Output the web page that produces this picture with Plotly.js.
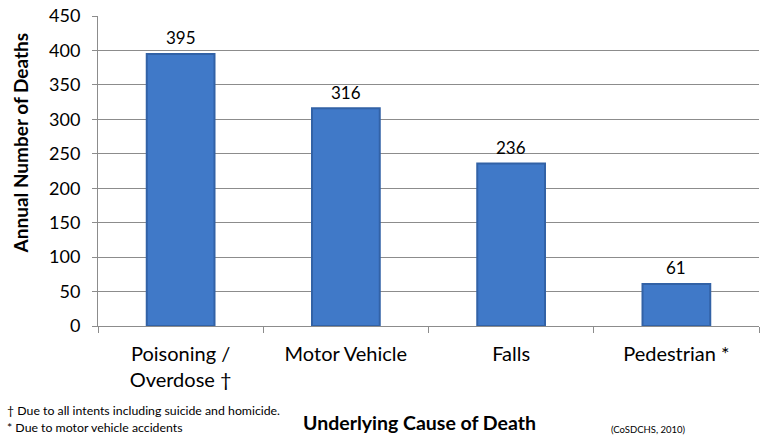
<!DOCTYPE html>
<html>
<head>
<meta charset="utf-8">
<script src="https://cdn.plot.ly/plotly-3.0.1.min.js"></script>
<style>html,body{margin:0;padding:0;background:#fff;}#chart{width:764px;height:438px;}</style>
</head>
<body>
<div id="chart"></div>
<script>
const categories = ["Poisoning /<br>Overdose †", "Motor Vehicle", "Falls", "Pedestrian *"];
const deaths = [395, 316, 236, 61];
const yTicks = [0, 50, 100, 150, 200, 250, 300, 350, 400, 450];

const FONT = "Lato, 'Open Sans', sans-serif";

const trace = {
  type: "bar",
  x: categories,
  y: deaths,
  width: 0.41,
  marker: {
    color: "#4079c8",
    line: {color: "#3262a6", width: 2}
  },
  hoverinfo: "none"
};

const valueLabels = categories.map((c, i) => ({
  x: c, y: deaths[i], xref: "x", yref: "y",
  text: String(deaths[i]), showarrow: false,
  yanchor: "middle", yshift: 16,
  font: {family: FONT, size: 17, color: "#000"}
}));

const layout = {
  width: 764, height: 438,
  margin: {l: 98, r: 5, t: 16, b: 112},
  paper_bgcolor: "#fff", plot_bgcolor: "#fff",
  showlegend: false,
  font: {family: FONT, color: "#000"},
  xaxis: {
    type: "category",
    showgrid: false,
    showline: true, linecolor: "#8c8c8c", linewidth: 1,
    ticks: "outside", tickson: "boundaries", ticklen: 6, tickcolor: "#8c8c8c",
    tickfont: {family: FONT, size: 20, color: "#000"},
    ticklabelstandoff: 10,
    fixedrange: true
  },
  yaxis: {
    range: [0, 450],
    tickvals: yTicks,
    showgrid: true, gridcolor: "#8c8c8c", gridwidth: 1,
    showline: true, linecolor: "#8c8c8c", linewidth: 1,
    ticks: "outside", ticklen: 5, tickcolor: "#8c8c8c",
    tickfont: {family: FONT, size: 18, color: "#000"},
    ticklabelstandoff: 8,
    zeroline: false,
    fixedrange: true
  },
  annotations: valueLabels.concat([
    {text: "<b>Annual Number of Deaths</b>", xref: "paper", yref: "paper", x: -0.118, y: 0.589,
     xanchor: "center", yanchor: "middle", textangle: -90, showarrow: false,
     font: {family: FONT, size: 19, color: "#000"}},
    {text: "<b>Underlying Cause of Death</b>", xref: "paper", yref: "paper", x: 0.487, y: -0.31,
     xanchor: "center", yanchor: "middle", showarrow: false,
     font: {family: FONT, size: 19.5, color: "#000"}},
    {text: "† Due to all intents including suicide and homicide.", xref: "paper", yref: "paper",
     x: -0.1407, y: -0.271, xanchor: "left", yanchor: "middle", showarrow: false,
     font: {family: FONT, size: 12.3, color: "#000"}},
    {text: "* Due to motor vehicle accidents", xref: "paper", yref: "paper",
     x: -0.1407, y: -0.329, xanchor: "left", yanchor: "middle", showarrow: false,
     font: {family: FONT, size: 12.3, color: "#000"}},
    {text: "(CoSDCHS, 2010)", xref: "paper", yref: "paper",
     x: 0.773, y: -0.335, xanchor: "left", yanchor: "middle", showarrow: false,
     font: {family: FONT, size: 9.5, color: "#000"}}
  ])
};

Plotly.newPlot("chart", [trace], layout, {displayModeBar: false, staticPlot: true});
</script>
</body>
</html>
